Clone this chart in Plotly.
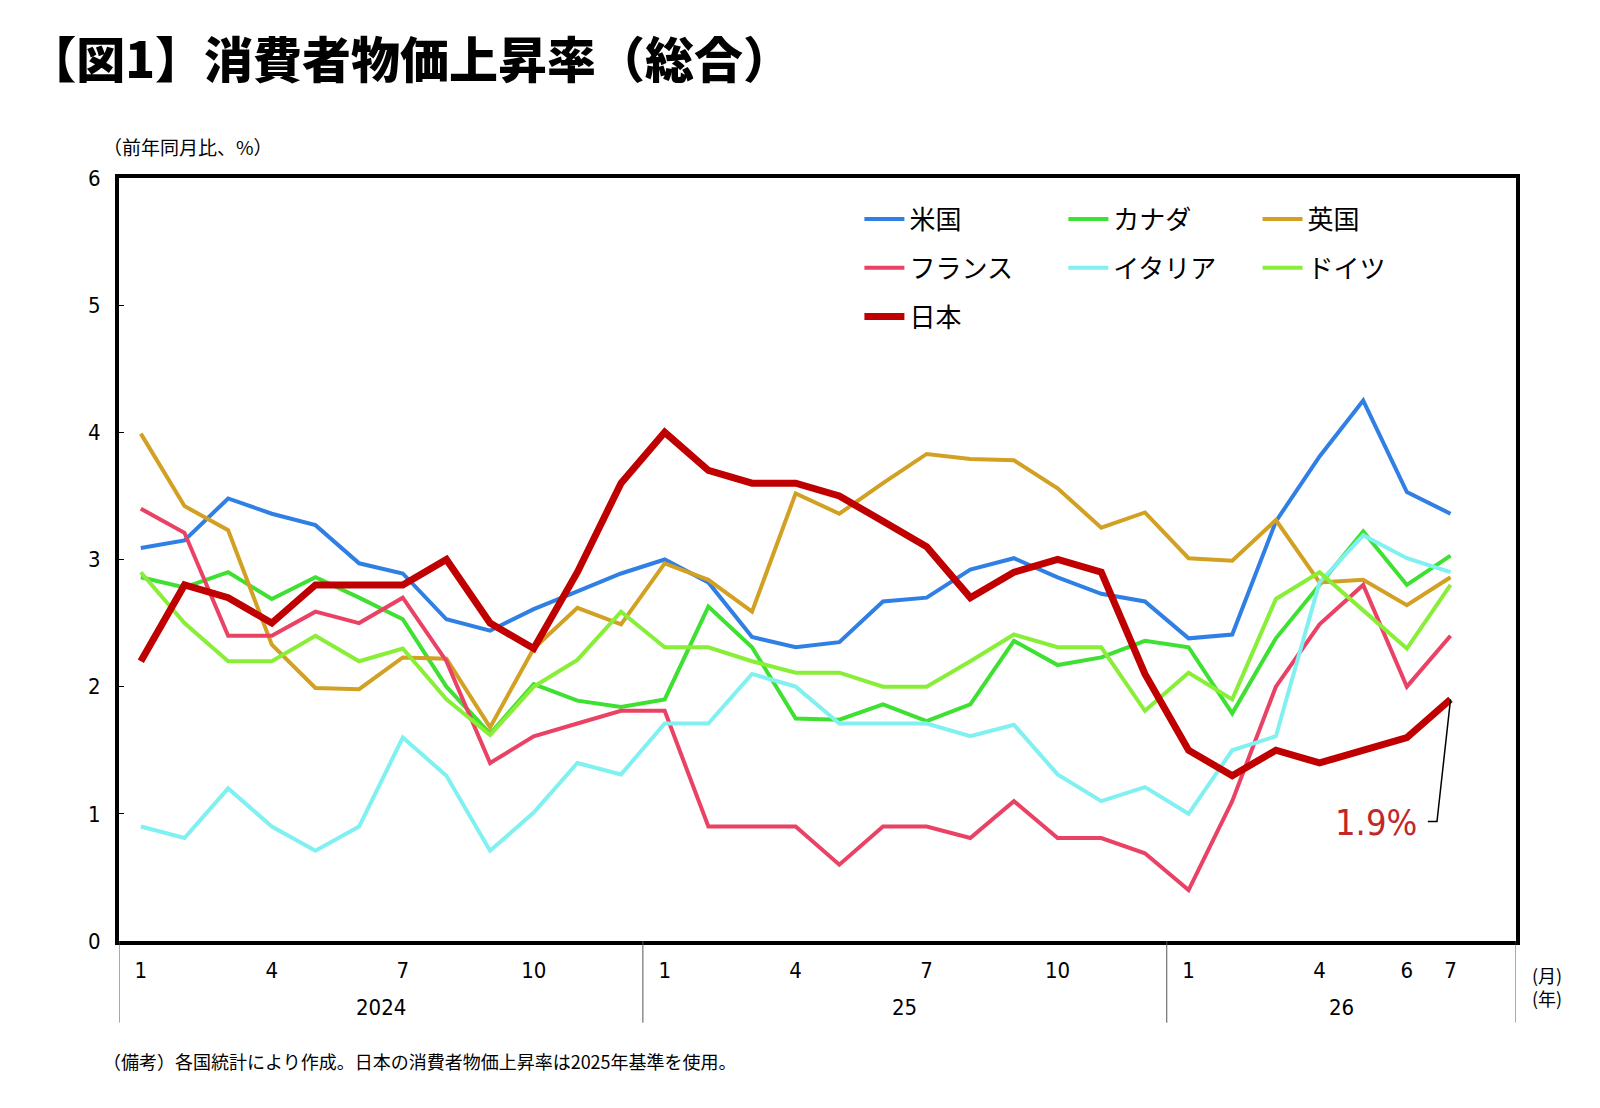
import plotly.graph_objects as go

# 2024-01 ... 2026-07
months = ["2024-01", "2024-02", "2024-03", "2024-04", "2024-05", "2024-06",
          "2024-07", "2024-08", "2024-09", "2024-10", "2024-11", "2024-12",
          "2025-01", "2025-02", "2025-03", "2025-04", "2025-05", "2025-06",
          "2025-07", "2025-08", "2025-09", "2025-10", "2025-11", "2025-12",
          "2026-01", "2026-02", "2026-03", "2026-04", "2026-05", "2026-06",
          "2026-07"]

tick_months = ["2024-01", "2024-04", "2024-07", "2024-10",
               "2025-01", "2025-04", "2025-07", "2025-10",
               "2026-01", "2026-04", "2026-06", "2026-07"]
tick_text = ["1", "4", "7", "10", "1", "4", "7", "10", "1", "4", "6", "7"]

year_labels = ["2024", "25", "26"]
year_bounds = [-0.5, 11.5, 23.5, 31.5]   # 区切り線の位置（カテゴリ番号）

us = [3.09, 3.15, 3.48, 3.36, 3.27, 2.97, 2.89, 2.53, 2.44, 2.61, 2.75, 2.89,
      3.00, 2.82, 2.39, 2.31, 2.35, 2.67, 2.70, 2.92, 3.01, 2.86, 2.73, 2.67,
      2.38, 2.41, 3.30, 3.81, 4.25, 3.53, 3.36]
canada = [2.86, 2.78, 2.90, 2.69, 2.86, 2.70, 2.53, 2.00, 1.63, 2.02, 1.89, 1.84,
          1.90, 2.63, 2.31, 1.75, 1.74, 1.86, 1.73, 1.86, 2.36, 2.17, 2.23, 2.36,
          2.31, 1.79, 2.38, 2.80, 3.22, 2.80, 3.03]
uk = [3.99, 3.42, 3.23, 2.33, 1.99, 1.98, 2.23, 2.22, 1.68, 2.30, 2.62, 2.49,
      2.97, 2.84, 2.59, 3.52, 3.36, 3.60, 3.83, 3.79, 3.78, 3.56, 3.25, 3.37,
      3.01, 2.99, 3.31, 2.82, 2.84, 2.64, 2.86]
france = [3.40, 3.21, 2.40, 2.40, 2.59, 2.50, 2.70, 2.20, 1.40, 1.61, 1.71, 1.81,
          1.81, 0.90, 0.90, 0.90, 0.60, 0.90, 0.90, 0.81, 1.10, 0.81, 0.81, 0.69,
          0.40, 1.10, 2.00, 2.49, 2.80, 2.00, 2.40]
italy = [0.90, 0.81, 1.20, 0.90, 0.71, 0.90, 1.60, 1.30, 0.71, 1.01, 1.40, 1.31,
         1.71, 1.71, 2.10, 2.00, 1.71, 1.71, 1.71, 1.61, 1.70, 1.31, 1.10, 1.21,
         1.00, 1.50, 1.61, 2.82, 3.19, 3.01, 2.90]
germany = [2.90, 2.50, 2.20, 2.20, 2.40, 2.20, 2.30, 1.90, 1.62, 2.00, 2.21, 2.59,
           2.31, 2.31, 2.20, 2.11, 2.11, 2.00, 2.00, 2.20, 2.41, 2.31, 2.31, 1.81,
           2.11, 1.90, 2.69, 2.90, 2.60, 2.30, 2.80]
japan = [2.2, 2.8, 2.7, 2.5, 2.8, 2.8, 2.8, 3.0, 2.5, 2.3, 2.9, 3.6,
         4.0, 3.7, 3.6, 3.6, 3.5, 3.3, 3.1, 2.7, 2.9, 3.0, 2.9, 2.1,
         1.5, 1.3, 1.5, 1.4, 1.5, 1.6, 1.9]

FONT = "Noto Sans CJK JP"
NUMFONT = "DejaVu Sans Condensed, Noto Sans CJK JP"

# (名前, データ, 色, 線幅, 凡例)
series = [
    ("米国", us, "#2f7fe4", 4, "legend"),
    ("カナダ", canada, "#3ee032", 4, "legend2"),
    ("英国", uk, "#d2a022", 4, "legend3"),
    ("フランス", france, "#ea4264", 4, "legend"),
    ("イタリア", italy, "#80f0f0", 4, "legend2"),
    ("ドイツ", germany, "#88ee38", 4, "legend3"),
    ("日本", japan, "#c00000", 7, "legend"),
]

fig = go.Figure()
for nm, vals, clr, wdth, lg in series:
    fig.add_trace(go.Scatter(x=months, y=vals, name=nm, mode="lines",
                             line=dict(color=clr, width=wdth),
                             legend=lg, legendgroup=nm))

# 年の区切り線
shapes = []
for b in year_bounds:
    shapes.append(dict(type="line", xref="x", yref="paper", x0=b, x1=b, y0=0, y1=-0.107,
                       line=dict(color="#555555", width=1)))

# 日本の最新値への引き出し線
last_i = len(japan) - 1
shapes.append(dict(type="path", xref="x", yref="y",
                   path="M %s,%s L %s,%s L %s,%s" % (last_i, japan[-1], last_i - 0.31, 0.94, last_i - 0.52, 0.94),
                   line=dict(color="black", width=1.5)))

annos = []
for k, lab in enumerate(year_labels):
    annos.append(dict(x=(year_bounds[k] + year_bounds[k + 1]) / 2, y=-0.087, xref="x", yref="paper",
                      text=lab, showarrow=False, yanchor="middle",
                      font=dict(family=NUMFONT, size=22, color="black")))
annos += [
    dict(x=1.01, y=-0.06, xref="paper", yref="paper", text="(月)<br>(年)", showarrow=False,
         xanchor="left", yanchor="middle", align="left",
         font=dict(family=FONT, size=18, color="black")),
    dict(x=-0.013, y=1.041, xref="paper", yref="paper", text="（前年同月比、%）", showarrow=False,
         xanchor="left", yanchor="middle", font=dict(family=FONT, size=19, color="black")),
    dict(x=-0.013, y=-0.157, xref="paper", yref="paper",
         text="（備考）各国統計により作成。日本の消費者物価上昇率は2025年基準を使用。",
         showarrow=False, xanchor="left", yanchor="middle",
         font=dict(family=FONT, size=18, color="black")),
    dict(x=last_i - 1.71, y=0.93, xref="x", yref="y", text="1.9%", showarrow=False,
         xanchor="center", yanchor="middle", font=dict(family=NUMFONT, size=36, color="#c0282a")),
]

leg = dict(bgcolor="rgba(0,0,0,0)", font=dict(family=FONT, size=26, color="black"),
           xref="paper", yref="paper", yanchor="top", xanchor="left",
           tracegroupgap=12, itemwidth=40, traceorder="grouped")

fig.update_layout(
    width=1600, height=1108,
    margin=dict(l=111, r=92, t=170, b=175),
    paper_bgcolor="white", plot_bgcolor="white",
    title=dict(text="【図1】消費者物価上昇率（総合）", x=0.012, xanchor="left",
               y=0.952, yanchor="middle",
               font=dict(family=FONT, size=49, color="black", weight=900)),
    xaxis=dict(type="category", range=[-0.5, 31.5], tickvals=tick_months, ticktext=tick_text,
               ticks="", showgrid=False, showline=True, mirror=True, linecolor="black", linewidth=4,
               tickfont=dict(family=NUMFONT, size=22, color="black"), ticklabelstandoff=7),
    yaxis=dict(range=[0, 6], dtick=1, ticks="inside", ticklen=5, tickcolor="black",
               showgrid=False, zeroline=False, showline=True, mirror=True, linecolor="black",
               linewidth=4, tickfont=dict(family=NUMFONT, size=22, color="black"),
               ticklabelstandoff=10),
    legend=dict(leg, x=0.53, y=0.977),
    legend2=dict(leg, x=0.676, y=0.977),
    legend3=dict(leg, x=0.815, y=0.977),
    shapes=shapes, annotations=annos,
)

fig.write_html("out.html")
